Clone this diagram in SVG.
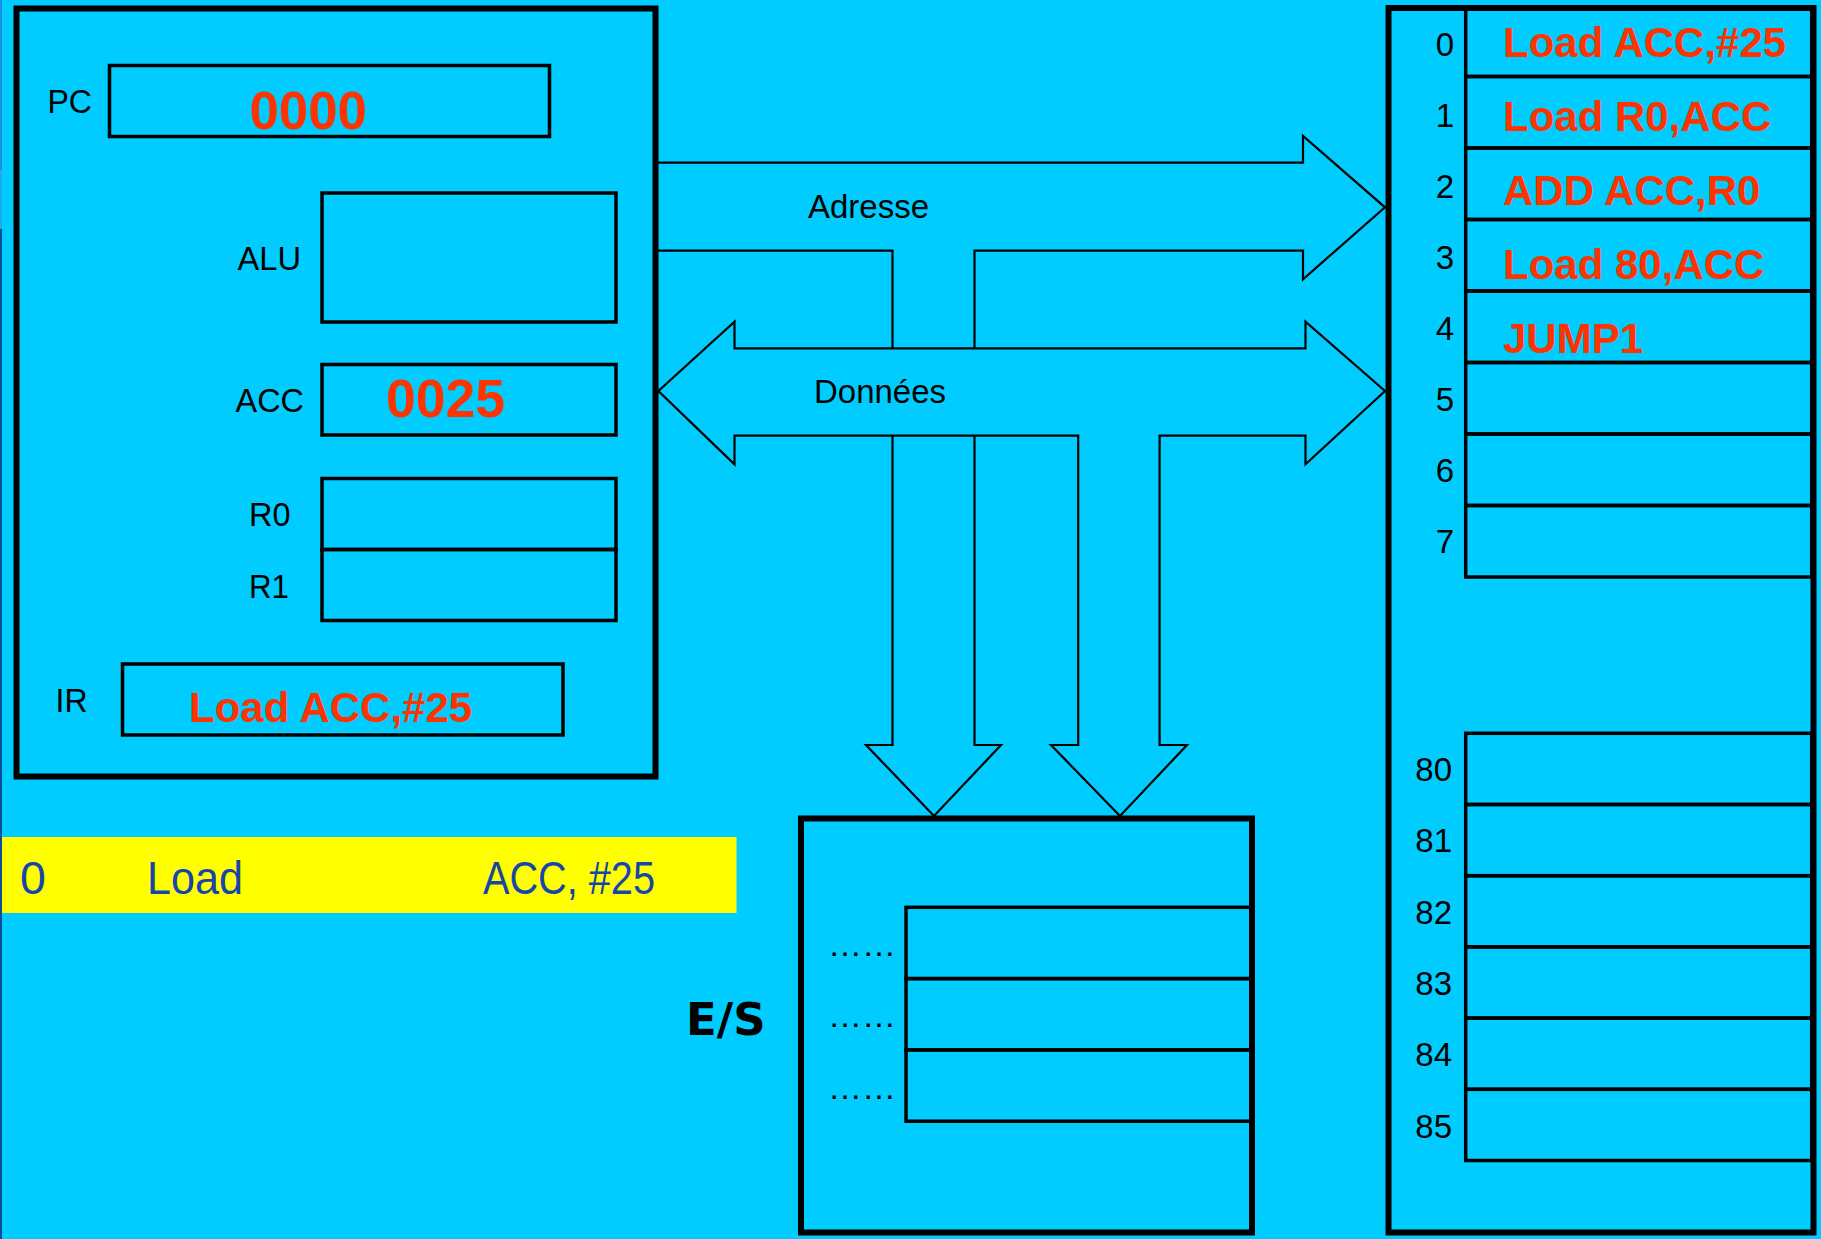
<svg xmlns="http://www.w3.org/2000/svg" width="1821" height="1239" viewBox="0 0 1821 1239">
<style>
.lbl{font-family:"Liberation Sans",Arial,sans-serif;font-size:34px;fill:#000}
.num{font-family:"Liberation Sans",Arial,sans-serif;font-size:33px;fill:#000}
.bus{font-family:"Liberation Sans",Arial,sans-serif;font-size:34px;fill:#000}
.red{font-family:"Liberation Sans",Arial,sans-serif;font-weight:bold;font-size:42px;fill:#FF3300}
.big{font-family:"Liberation Sans",Arial,sans-serif;font-weight:bold;font-size:54px;fill:#FF3300}
.ylw{font-family:"Liberation Sans",Arial,sans-serif;font-size:46.5px;fill:#1546A8}
.outer{fill:none;stroke:#000;stroke-width:6}
.cell{fill:none;stroke:#000;stroke-width:3.5}
.wire{fill:none;stroke:#000;stroke-width:2.2;stroke-linejoin:miter}
.dots{font-family:"Liberation Sans",Arial,sans-serif;font-size:34px;fill:#000}
</style>
<rect x="0" y="0" width="1821" height="1239" fill="#00CCFF"/>
<rect x="0" y="0" width="2" height="170" fill="#1890E0"/>
<rect x="0" y="170" width="2" height="59" fill="#20A8EE"/>
<rect x="0" y="229" width="2" height="1010" fill="#0C4E98"/>

<g id="cpu">
<rect class="outer" x="16.5" y="8.5" width="639" height="768" stroke-width="5.5"/>
<g id="pc">
<rect class="cell" x="109.5" y="65.5" width="440" height="71"/>
<text class="lbl" x="47.5" y="112.5" textLength="44.5" lengthAdjust="spacingAndGlyphs">PC</text>
<text class="big" x="249.5" y="128.5" textLength="117.5" lengthAdjust="spacingAndGlyphs">0000</text>
</g>
<g id="alu">
<rect class="cell" x="322" y="193" width="294" height="129"/>
<text class="lbl" x="237.5" y="269.5" textLength="63.5" lengthAdjust="spacingAndGlyphs">ALU</text>
</g>
<g id="acc">
<rect class="cell" x="322" y="364.5" width="294" height="70.5"/>
<text class="lbl" x="235.5" y="411.5" textLength="68.5" lengthAdjust="spacingAndGlyphs">ACC</text>
<text class="big" x="386" y="416.5" textLength="119" lengthAdjust="spacingAndGlyphs">0025</text>
</g>
<g id="r0">
<rect class="cell" x="322" y="478.5" width="294" height="71"/>
<text class="lbl" x="249" y="525.5" textLength="41.5" lengthAdjust="spacingAndGlyphs">R0</text>
</g>
<g id="r1">
<rect class="cell" x="322" y="549.5" width="294" height="71"/>
<text class="lbl" x="249" y="597.5" textLength="40" lengthAdjust="spacingAndGlyphs">R1</text>
</g>
<g id="ir">
<rect class="cell" x="122.5" y="664" width="440.5" height="71"/>
<text class="lbl" x="55.5" y="711.5" textLength="32" lengthAdjust="spacingAndGlyphs">IR</text>
<text class="red" x="189" y="721.5">Load ACC,#25</text>
</g>
</g>

<g id="instruction">
<rect x="2" y="837" width="734.5" height="76" fill="#FFFF00"/>
<text class="ylw" x="20" y="894">0</text>
<text class="ylw" x="147" y="894" textLength="96" lengthAdjust="spacingAndGlyphs">Load</text>
<text class="ylw" x="483" y="894" textLength="172" lengthAdjust="spacingAndGlyphs">ACC, #25</text>
</g>

<g id="memory">
<rect class="outer" x="1388.5" y="8" width="425" height="1224.5"/>
<g id="mem-low">
<rect class="cell" x="1465.7" y="8" width="346" height="68.5"/>
<rect class="cell" x="1465.7" y="76.5" width="346" height="71.5"/>
<rect class="cell" x="1465.7" y="148" width="346" height="71.5"/>
<rect class="cell" x="1465.7" y="219.5" width="346" height="71.5"/>
<rect class="cell" x="1465.7" y="291" width="346" height="71.5"/>
<rect class="cell" x="1465.7" y="362.5" width="346" height="71.5"/>
<rect class="cell" x="1465.7" y="434" width="346" height="71.5"/>
<rect class="cell" x="1465.7" y="505.5" width="346" height="71.5"/>
<g class="num" text-anchor="end">
<text x="1454" y="56">0</text>
<text x="1454" y="127">1</text>
<text x="1454" y="198">2</text>
<text x="1454" y="269">3</text>
<text x="1454" y="340">4</text>
<text x="1454" y="411">5</text>
<text x="1454" y="482">6</text>
<text x="1454" y="553">7</text>
</g>
<text class="red" x="1503" y="56.5">Load ACC,#25</text>
<text class="red" x="1503" y="130.5">Load R0,ACC</text>
<text class="red" x="1503" y="204.5">ADD ACC,R0</text>
<text class="red" x="1503" y="278.5">Load 80,ACC</text>
<text class="red" x="1503" y="352.5">JUMP1</text>
</g>
<g id="mem-high">
<rect class="cell" x="1465.7" y="733.3" width="346" height="71.2"/>
<rect class="cell" x="1465.7" y="804.5" width="346" height="71.2"/>
<rect class="cell" x="1465.7" y="875.7" width="346" height="71.2"/>
<rect class="cell" x="1465.7" y="946.9" width="346" height="71.2"/>
<rect class="cell" x="1465.7" y="1018.1" width="346" height="71.2"/>
<rect class="cell" x="1465.7" y="1089.3" width="346" height="71.2"/>
<g class="num" text-anchor="end">
<text x="1452" y="781">80</text>
<text x="1452" y="852.3">81</text>
<text x="1452" y="923.6">82</text>
<text x="1452" y="994.9">83</text>
<text x="1452" y="1066.2">84</text>
<text x="1452" y="1137.5">85</text>
</g>
</g>
</g>

<g id="es">
<rect class="outer" x="801" y="818.5" width="451" height="414"/>
<rect class="cell" x="906" y="907.3" width="346" height="71.3"/>
<rect class="cell" x="906" y="978.6" width="346" height="71.3"/>
<rect class="cell" x="906" y="1049.9" width="346" height="71.3"/>
<text class="dots" x="828" y="955.5">……</text>
<text class="dots" x="828" y="1027">……</text>
<text class="dots" x="828" y="1098.5">……</text>
<text x="686" y="1035" font-family="DejaVu Sans, Verdana, sans-serif" font-weight="bold" font-size="45">E/S</text>
</g>

<g id="connectors">
<path class="wire" d="M658,162.7 H1303 V136 L1385,207.3 L1303,279.3 V250.7 H974.5 V348.3"/>
<path class="wire" d="M658,250.7 H892.5 V348.3"/>
<path class="wire" d="M734.5,348.3 V321.7 L658.4,391 L734.5,464.3 V435.7 H1078.2 V745 H1051 L1120,816 L1187,745 H1159.6 V435.7 H1305.5 V464.3 L1385,391 L1305.5,321.7 V348.3 Z"/>
<path class="wire" d="M892.5,435.7 V745 H866 L934,816 L1001,745 H974.5 V435.7"/>
<text class="bus" x="808" y="217.5" textLength="121" lengthAdjust="spacingAndGlyphs">Adresse</text>
<text class="bus" x="814" y="402.5" textLength="132" lengthAdjust="spacingAndGlyphs">Données</text>
</g>
</svg>
